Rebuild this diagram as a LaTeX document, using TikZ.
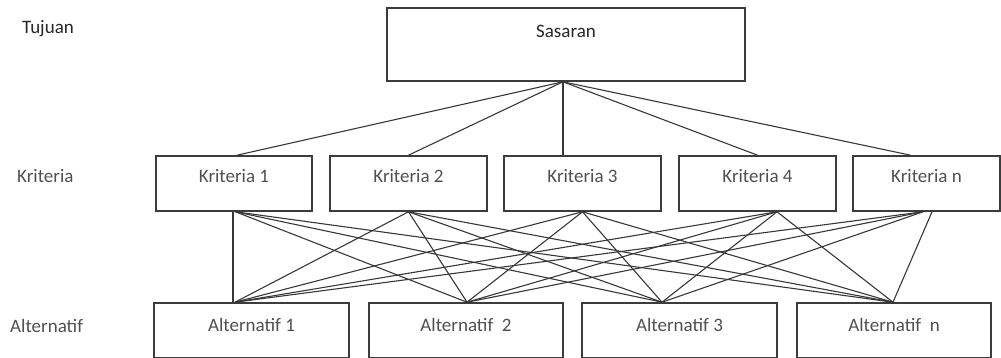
\documentclass[tikz,border=0pt]{standalone}
\usepackage{fontspec}
\setmainfont{Carlito}
\usetikzlibrary{calc}
\begin{document}
\begin{tikzpicture}[x=1pt,y=-1pt,
  box/.style={draw=boxc, line width=1.6pt, fill=white, inner sep=0pt, text=txtc, font=\fontsize{19}{22}\selectfont},
  lvl/.style={anchor=base west, inner sep=0pt, font=\fontsize{19}{22}\selectfont},
  conn/.style={draw=linec, line width=1.1pt}]
\definecolor{boxc}{HTML}{3C3C3C}
\definecolor{txtc}{HTML}{505050}
\definecolor{linec}{HTML}{383838}
\useasboundingbox (0,0) rectangle (1001,358);
% level labels
\node[lvl, text=black!85] (ltuj) at (22,34) {Tujuan};
\node[lvl, text=txtc] (lkri) at (17,183) {Kriteria};
\node[lvl, text=txtc] (lalt) at (10,332) {Alternatif};
% goal
\node[box, text=black!85, minimum width=358, text height=30, text depth=43] (s) at (566,44.5) {Sasaran};
% criteria
\node[box, minimum width=156, text height=27, text depth=28] (k1) at (234,183.5) {Kriteria 1};
\node[box, minimum width=157, text height=27, text depth=28] (k2) at (408.5,183.5) {Kriteria 2};
\node[box, minimum width=157, text height=27, text depth=28] (k3) at (582.5,183.5) {Kriteria 3};
\node[box, minimum width=157, text height=27, text depth=28] (k4) at (757.5,183.5) {Kriteria 4};
\node[box, minimum width=147, text height=27, text depth=28] (kn) at (926.5,183.5) {Kriteria n};
% alternatives
\node[box, minimum width=195, text height=28, text depth=27] (a1) at (251.5,330.5) {Alternatif 1};
\node[box, minimum width=194, text height=28, text depth=27] (a2) at (466,330.5) {Alternatif\ \ 2};
\node[box, minimum width=195, text height=28, text depth=27] (a3) at (679.5,330.5) {Alternatif 3};
\node[box, minimum width=194, text height=28, text depth=27] (an) at (894,330.5) {Alternatif\ \ n};
% connection points
\coordinate (sb) at ($(s.south)+(-3,0)$);
\coordinate (k1t) at ($(k1.north)+(3,0)$);
\coordinate (k2t) at (k2.north);
\coordinate (k3t) at ($(k3.north)+(-19.5,0)$);
\coordinate (k4t) at (k4.north);
\coordinate (knt) at ($(kn.north)+(-16,0)$);
\coordinate (k1v) at ($(k1.south)+(-1,0)$);
\coordinate (k1b) at ($(k1.south)+(1.5,0)$);
\coordinate (k2b) at (k2.south);
\coordinate (k3b) at (k3.south);
\coordinate (k4b) at ($(k4.south)+(19.5,0)$);
\coordinate (knb) at ($(kn.south)+(-3.5,0)$);
\coordinate (knv) at ($(kn.south)+(5.5,0)$);
\coordinate (a1v) at ($(a1.north)+(-18.5,0)$);
\coordinate (a1t) at ($(a1.north)+(-16.5,0)$);
\coordinate (a2t) at ($(a2.north)+(1,0)$);
\coordinate (a3t) at ($(a3.north)+(-17.5,0)$);
\coordinate (ant) at ($(an.north)+(-1,0)$);
% goal to criteria
\foreach \k in {k1t,k2t,k3t,k4t,knt} \draw[conn] (sb) -- (\k);
% criteria to alternatives
\draw[conn] (k1v) -- (a1v);
\foreach \a in {a2t,a3t,ant} \draw[conn] (k1b) -- (\a);
\foreach \k in {k2b,k3b,k4b,knb} \foreach \a in {a1t,a2t,a3t} \draw[conn] (\k) -- (\a);
\foreach \k in {k2b,k3b,k4b} \draw[conn] (\k) -- (ant);
\draw[conn] (knv) -- (ant);
\end{tikzpicture}
\end{document}
